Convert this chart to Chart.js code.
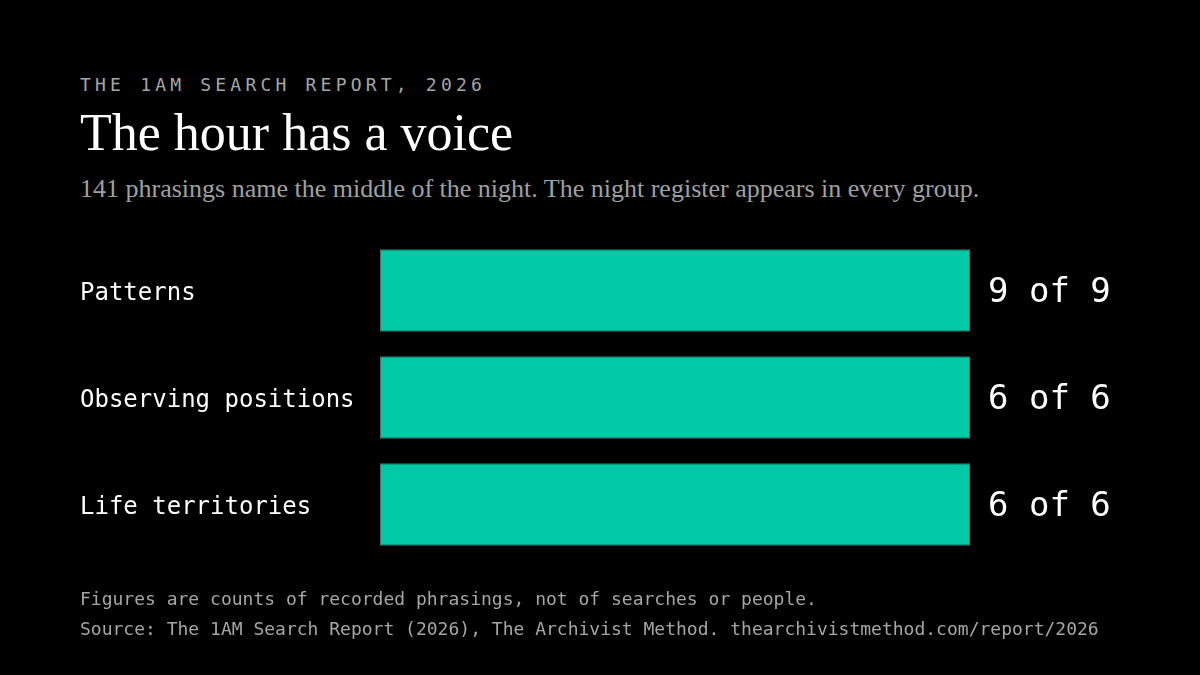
<!DOCTYPE html>
<html lang="en">
<head>
  <meta charset="UTF-8">
  <title>The hour has a voice</title>
  <script src="https://cdn.jsdelivr.net/npm/chart.js"></script>
  <style>
    html, body { margin: 0; padding: 0; background: #000; }
    #page { position: relative; width: 1200px; height: 675px; overflow: hidden; background: #000; }
    .t { position: absolute; left: 80px; white-space: nowrap; line-height: 1; }
    #kicker { top: 74px; font: 18px "DejaVu Sans Mono", monospace; letter-spacing: 4.2px; color: #a6a6a6; }
    #title { top: 103px; font: 52px "Liberation Serif", serif; color: #fff; }
    #sub { top: 174px; font: 26px "Liberation Serif", serif; color: #a0a0a0; }
    #note1 { top: 588px; font: 18px "DejaVu Sans Mono", monospace; color: #a6a6a6; }
    #note2 { top: 618px; font: 18px "DejaVu Sans Mono", monospace; color: #a6a6a6; }
    #chartBox { position: absolute; left: 0; top: 0; width: 1200px; height: 675px; }
  </style>
</head>
<body>
<div id="page">
  <div class="t" id="kicker">THE 1AM SEARCH REPORT, 2026</div>
  <div class="t" id="title">The hour has a voice</div>
  <div class="t" id="sub">141 phrasings name the middle of the night. The night register appears in every group.</div>
  <div id="chartBox"><canvas id="bars"></canvas></div>
  <div class="t" id="note1">Figures are counts of recorded phrasings, not of searches or people.</div>
  <div class="t" id="note2">Source: The 1AM Search Report (2026), The Archivist Method. thearchivistmethod.com/report/2026</div>
</div>

<script>
  // группы и сколько из них содержат ночной регистр
  const groups = ['Patterns', 'Observing positions', 'Life territories'];
  const present = [9, 6, 6];
  const totals = [9, 6, 6];

  const share = present.map((v, i) => v / totals[i]);

  // подписи "9 of 9" справа от полос
  const valueLabels = {
    id: 'valueLabels',
    afterDatasetsDraw(chart) {
      const ctx = chart.ctx;
      const meta = chart.getDatasetMeta(0);
      ctx.save();
      ctx.font = '34px "DejaVu Sans Mono", monospace';
      ctx.fillStyle = '#ffffff';
      ctx.textAlign = 'left';
      ctx.textBaseline = 'middle';
      meta.data.forEach((bar, i) => {
        ctx.fillText(present[i] + ' of ' + totals[i], bar.x + 18, bar.y + 3);
      });
      ctx.restore();
    }
  };

  new Chart(document.getElementById('bars'), {
    type: 'bar',
    data: {
      labels: groups,
      datasets: [{
        data: share,
        backgroundColor: '#00c9a7',
        borderColor: '#4a6f69',
        borderWidth: 1,
        borderSkipped: false,
        categoryPercentage: 1,
        barPercentage: 0.77
      }]
    },
    options: {
      indexAxis: 'y',
      responsive: true,
      maintainAspectRatio: false,
      animation: false,
      events: [],
      layout: { padding: { left: 80, right: 230, top: 237, bottom: 117 } },
      plugins: { legend: { display: false }, tooltip: { enabled: false } },
      scales: {
        x: { display: false, min: 0, max: 1 },
        y: {
          grid: { display: false },
          border: { display: false },
          afterFit(scale) { scale.width = 300; },
          ticks: {
            crossAlign: 'far',
            padding: 0,
            labelOffset: 3,
            color: '#ffffff',
            font: { family: '"DejaVu Sans Mono", monospace', size: 24 }
          }
        }
      }
    },
    plugins: [valueLabels]
  });
</script>
</body>
</html>
